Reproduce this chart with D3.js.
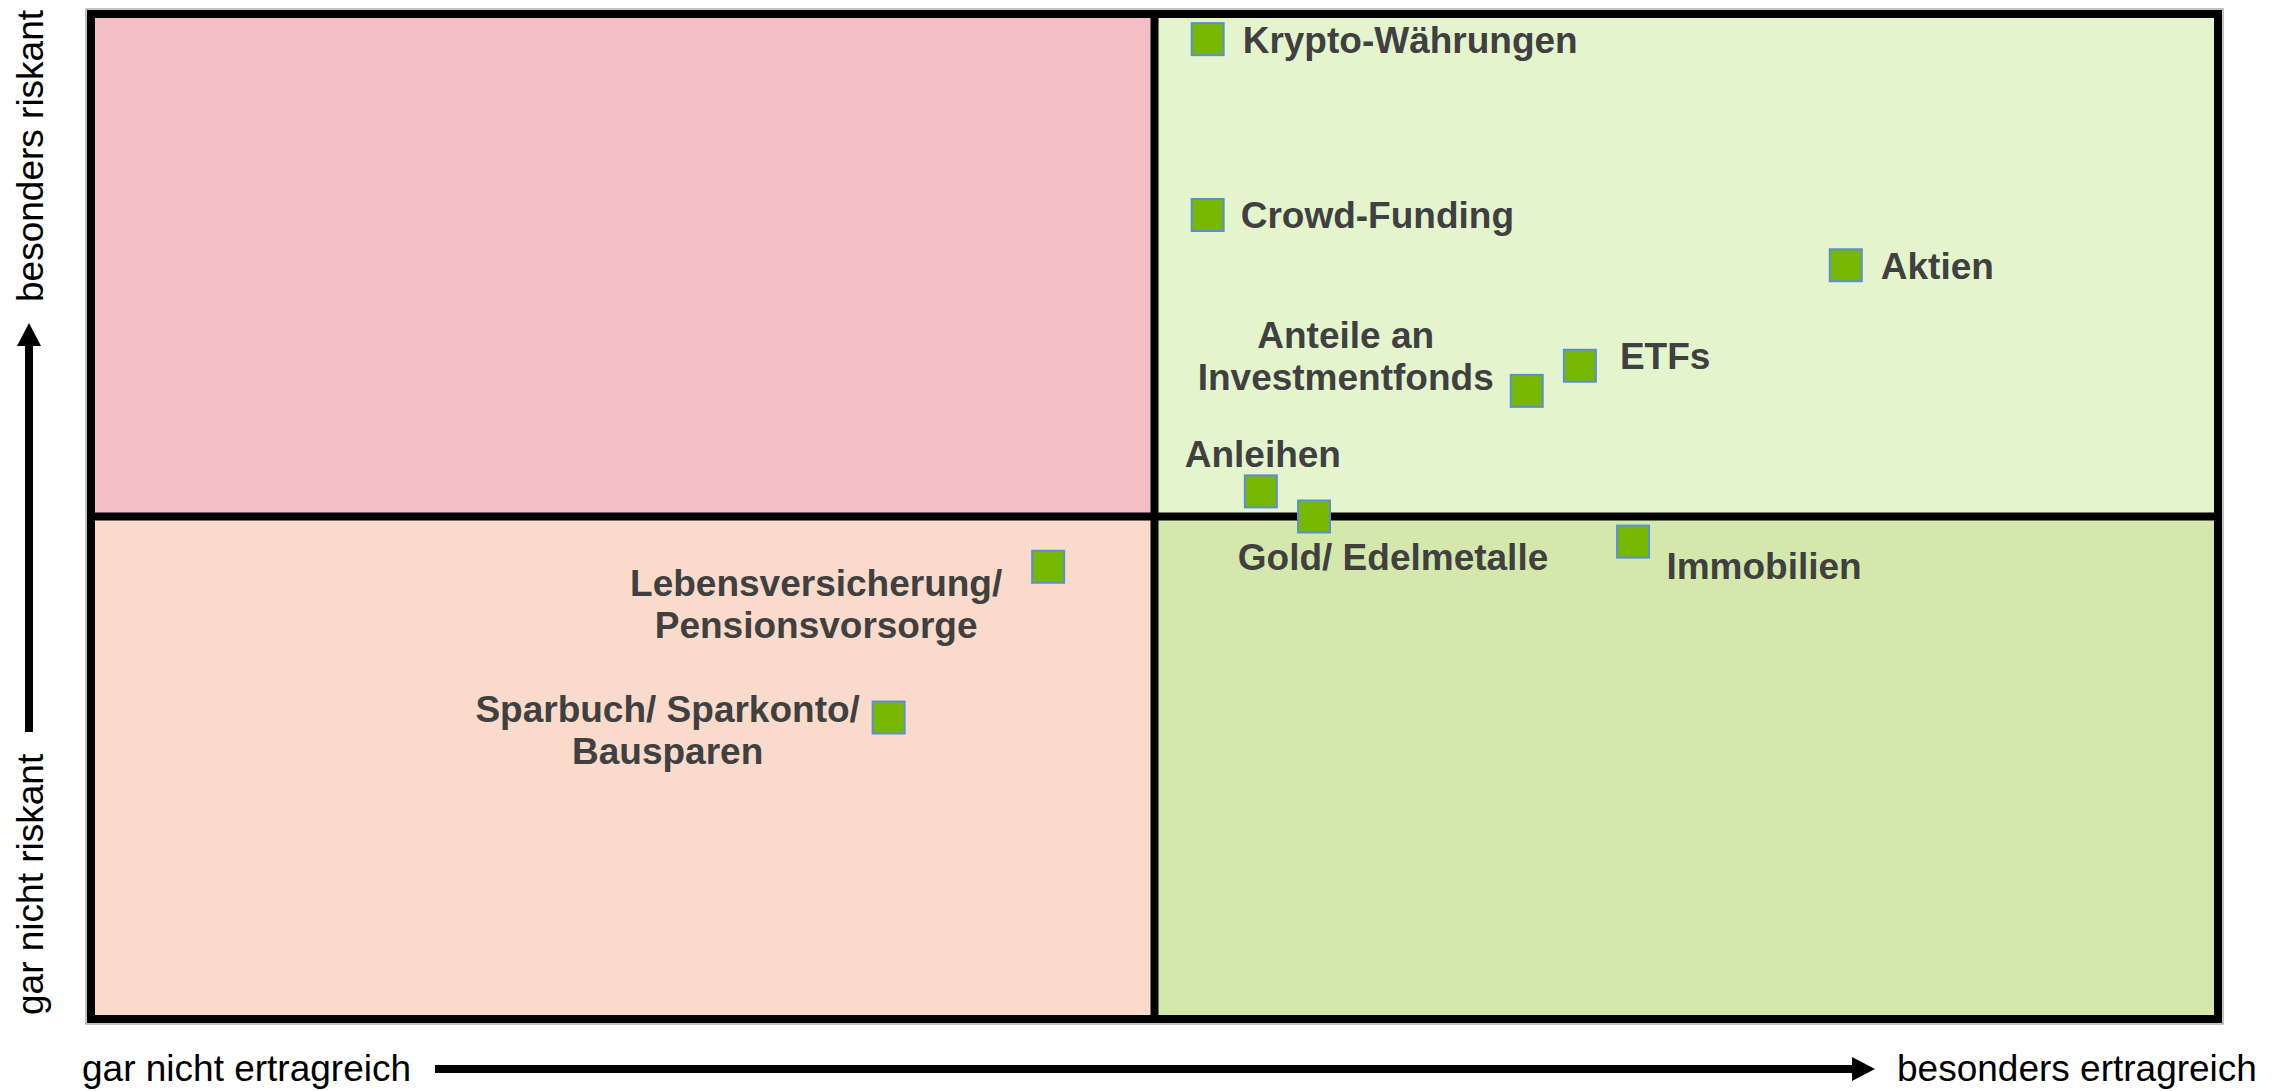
<!DOCTYPE html>
<html>
<head>
<meta charset="utf-8">
<script src="https://cdn.jsdelivr.net/npm/d3@7"></script>
<style>
  html, body { margin: 0; padding: 0; background: #ffffff; }
  svg { display: block; }
</style>
</head>
<body>
<svg id="chart" width="2290" height="1091"></svg>
<script>
// ---- data ----
const categories = [
  "Krypto-Währungen", "Crowd-Funding", "Aktien", "ETFs",
  "Anteile an Investmentfonds", "Anleihen", "Gold/ Edelmetalle",
  "Immobilien", "Lebensversicherung/ Pensionsvorsorge",
  "Sparbuch/ Sparkonto/ Bausparen"
];
const labelLines = [
  ["Krypto-Währungen"], ["Crowd-Funding"], ["Aktien"], ["ETFs"],
  ["Anteile an", "Investmentfonds"], ["Anleihen"], ["Gold/ Edelmetalle"],
  ["Immobilien"], ["Lebensversicherung/", "Pensionsvorsorge"],
  ["Sparbuch/ Sparkonto/", "Bausparen"]
];
const ertrag = [52.5, 52.5, 82.5, 70, 67.5, 55, 57.5, 72.5, 45, 37.5];   // x: Ertrag
const risiko = [97.5, 80, 75, 65, 62.5, 52.5, 50, 47.5, 45, 30];        // y: Risiko
const axisLabels = {
  xLow: "gar nicht ertragreich", xHigh: "besonders ertragreich",
  yLow: "gar nicht riskant", yHigh: "besonders riskant"
};
const quadrantColors = ["#F5C0C5", "#E4F5CD", "#FADACB", "#D4E8AC"]; // TL, TR, BL, BR

// ---- label layout (offset from marker centre, px) ----
const labelLayout = [
  { dx: 35, dy: 14, anchor: "start" },
  { dx: 33, dy: 13, anchor: "start" },
  { dx: 35, dy: 14, anchor: "start" },
  { dx: 40, dy: 3, anchor: "start" },
  { dx: -181, dy: -43, anchor: "middle" },
  { dx: 2, dy: -24, anchor: "middle" },
  { dx: 79, dy: 53, anchor: "middle" },
  { dx: 131, dy: 37, anchor: "middle" },
  { dx: -232, dy: 29, anchor: "middle" },
  { dx: -221, dy: 4, anchor: "middle" }
];

const svg = d3.select("#chart");
const x = d3.scaleLinear().domain([0, 100]).range([91, 2218]);
const y = d3.scaleLinear().domain([0, 100]).range([1019, 14]);

// quadrants
const quads = [
  { x0: 0, x1: 50, y0: 50, y1: 100, c: quadrantColors[0] },
  { x0: 50, x1: 100, y0: 50, y1: 100, c: quadrantColors[1] },
  { x0: 0, x1: 50, y0: 0, y1: 50, c: quadrantColors[2] },
  { x0: 50, x1: 100, y0: 0, y1: 50, c: quadrantColors[3] }
];
svg.append("g").selectAll("rect").data(quads).join("rect")
  .attr("x", d => x(d.x0)).attr("y", d => y(d.y1))
  .attr("width", d => x(d.x1) - x(d.x0)).attr("height", d => y(d.y0) - y(d.y1))
  .attr("fill", d => d.c);

// faint shadow outline
svg.append("rect")
  .attr("x", x(0) - 5).attr("y", y(100) - 5)
  .attr("width", x(100) - x(0) + 10).attr("height", y(0) - y(100) + 10)
  .attr("fill", "none").attr("stroke", "#9a9a9a").attr("stroke-width", 1.2);

// dividing lines
const g = svg.append("g").attr("stroke", "#000").attr("stroke-width", 8);
g.append("line").attr("x1", x(50)).attr("x2", x(50)).attr("y1", y(100)).attr("y2", y(0));
g.append("line").attr("x1", x(0)).attr("x2", x(100)).attr("y1", y(50)).attr("y2", y(50));
// frame
svg.append("rect")
  .attr("x", x(0)).attr("y", y(100))
  .attr("width", x(100) - x(0)).attr("height", y(0) - y(100))
  .attr("fill", "none").attr("stroke", "#000").attr("stroke-width", 8);

// markers
const pts = categories.map((c, i) => ({ name: c, lines: labelLines[i], ex: ertrag[i], ri: risiko[i], lay: labelLayout[i] }));
const size = 32;
svg.append("g").selectAll("rect").data(pts).join("rect")
  .attr("x", d => x(d.ex) - size / 2).attr("y", d => y(d.ri) - size / 2)
  .attr("width", size).attr("height", size)
  .attr("fill", "#77B900").attr("stroke", "#5B8ED6").attr("stroke-width", 2);

// labels
const lbl = svg.append("g")
  .attr("font-family", "'Liberation Sans', Arial, sans-serif")
  .attr("font-weight", "bold").attr("font-size", 37).attr("fill", "#404040");
pts.forEach(d => {
  const t = lbl.append("text")
    .attr("x", x(d.ex) + d.lay.dx).attr("y", y(d.ri) + d.lay.dy)
    .attr("text-anchor", d.lay.anchor);
  d.lines.forEach((ln, j) => {
    t.append("tspan").attr("x", x(d.ex) + d.lay.dx).attr("dy", j === 0 ? 0 : 42).text(ln);
  });
});

// axis arrows
const defs = svg.append("defs");
defs.append("marker").attr("id", "arrow")
  .attr("viewBox", "0 0 24 24").attr("refX", 0).attr("refY", 12)
  .attr("markerUnits", "userSpaceOnUse").attr("markerWidth", 24).attr("markerHeight", 24)
  .attr("orient", "auto")
  .append("path").attr("d", "M0,0 L23,12 L0,24 Z").attr("fill", "#000");

svg.append("line").attr("x1", 435).attr("x2", 1852).attr("y1", 1069).attr("y2", 1069)
  .attr("stroke", "#000").attr("stroke-width", 8).attr("marker-end", "url(#arrow)");
svg.append("line").attr("x1", 29).attr("x2", 29).attr("y1", 732).attr("y2", 346)
  .attr("stroke", "#000").attr("stroke-width", 8).attr("marker-end", "url(#arrow)");

const ax = svg.append("g")
  .attr("font-family", "'Liberation Sans', Arial, sans-serif")
  .attr("font-size", 37).attr("fill", "#000");
ax.append("text").attr("x", 82).attr("y", 1081).text(axisLabels.xLow);
ax.append("text").attr("x", 1897).attr("y", 1081).text(axisLabels.xHigh);
ax.append("text").attr("transform", "translate(43,1015) rotate(-90)").text(axisLabels.yLow);
ax.append("text").attr("transform", "translate(43,302) rotate(-90)").text(axisLabels.yHigh);
</script>
</body>
</html>
